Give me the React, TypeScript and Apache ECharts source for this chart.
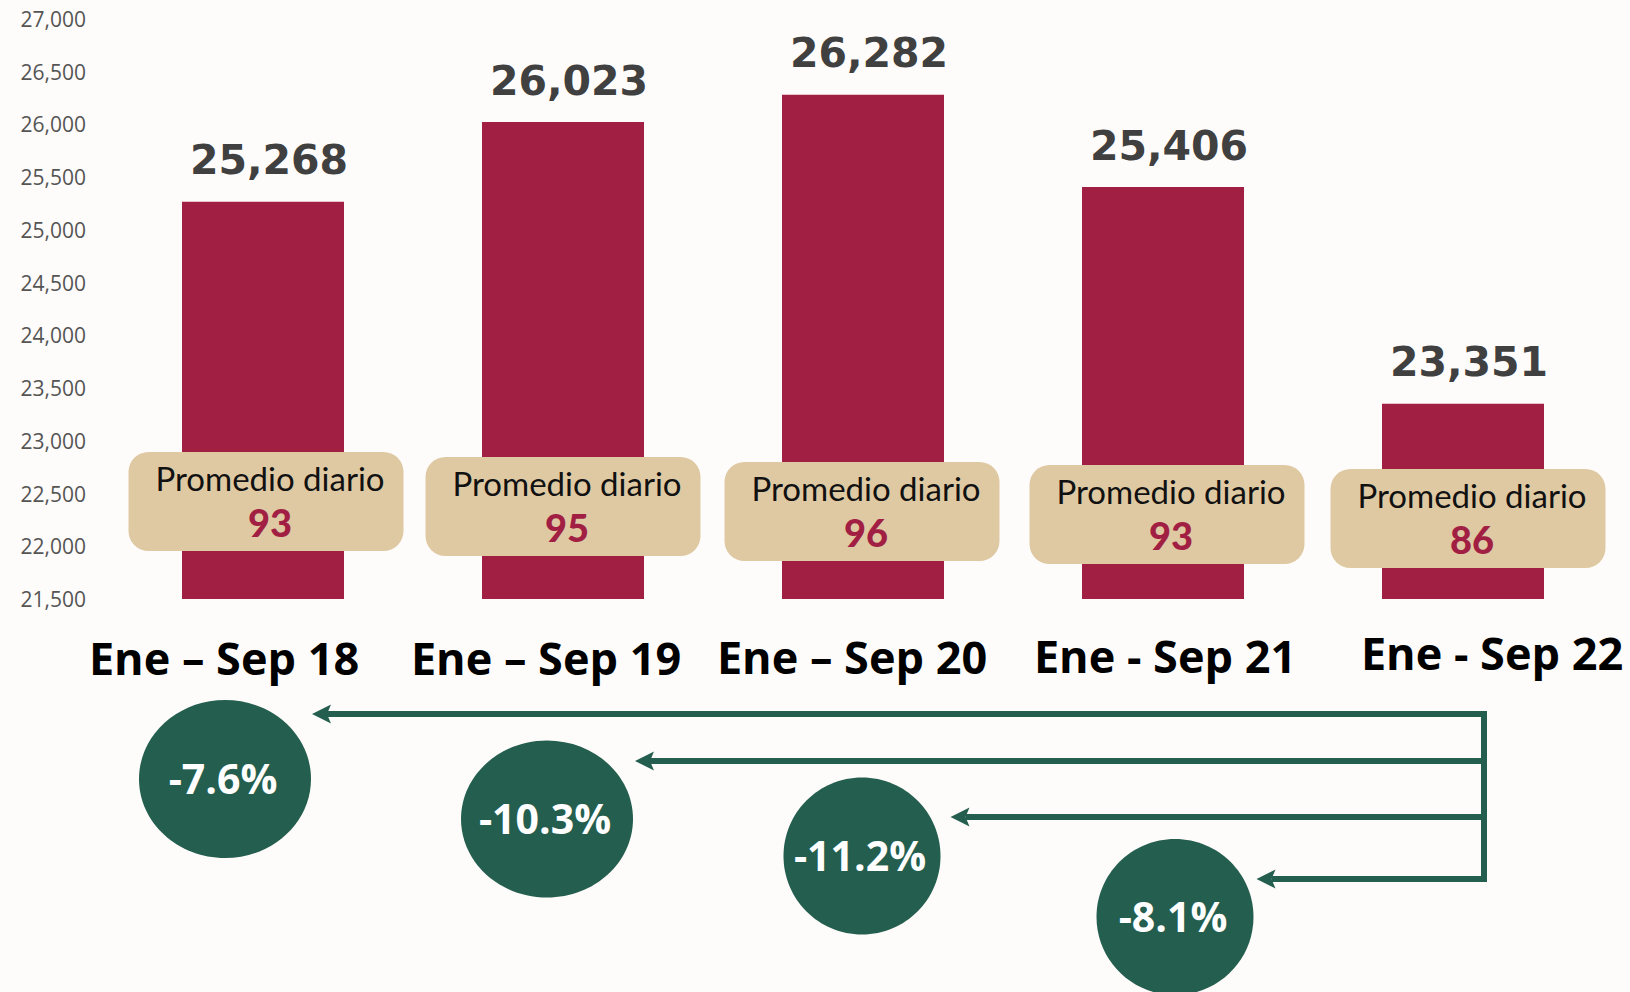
import React, { useEffect, useRef } from 'react';
import * as echarts from 'echarts';

// ---- data ----
const categories = ['Ene – Sep 18', 'Ene – Sep 19', 'Ene – Sep 20', 'Ene - Sep 21', 'Ene - Sep 22'];
const totals = [25268, 26023, 26282, 25406, 23351];
const dailyAverage = [93, 95, 96, 93, 86];
const changeVsLast = [-7.6, -10.3, -11.2, -8.1];
const yMin = 21500;
const yMax = 27000;
const yStep = 500;

// ---- styles / layout tweaks ----
const BAR = '#A21F44';
const TAN = '#DFC9A3';
const GREEN = '#245E4F';
const boxDx = [3, 0, -1, 4, 5];
const boxTop = [147, 142, 137, 134, 130];
const catDx = [-39, -17, -11, 2, 29];
const catPadTop = [13, 13, 11, 10, 3];
const circleDx = [-38, -16, -1, 12];
const circleDy = [180, 220, 257, 318];
const circleR = [[86, 79], [86, 78.5], [78.5, 78.5], [78.5, 78]];
const arrowDy = [115, 162, 218, 280];
const arrowGap = [1, 2, 10, 3];

const fmt = (v: number) => v.toLocaleString('en-US');

export default function App() {
  const ref = useRef<HTMLDivElement>(null);
  useEffect(() => {
    if (!ref.current) return;
    const chart = echarts.init(ref.current, undefined, { renderer: 'svg' });
    const rich: any = {};
    categories.forEach((_, i) => {
      const dx = catDx[i];
      rich['c' + i] = {
        fontFamily: 'Open Sans',
        fontWeight: 'bold',
        fontSize: 45,
        lineHeight: 45,
        color: '#000',
        padding: [catPadTop[i], dx < 0 ? -2 * dx : 0, 0, dx > 0 ? 2 * dx : 0],
      };
    });
    chart.setOption({
      animation: false,
      backgroundColor: '#fefcfa',
      grid: { left: 113, right: 17, top: 19, bottom: 393, containLabel: false },
      xAxis: {
        type: 'category',
        data: categories,
        axisLine: { show: false },
        axisTick: { show: false },
        axisLabel: {
          interval: 0,
          margin: 29,
          formatter: (v: string, i: number) => `{c${i}|${v}}`,
          rich,
        },
      },
      yAxis: {
        type: 'value',
        min: yMin,
        max: yMax,
        interval: yStep,
        splitLine: { show: false },
        axisLine: { show: false },
        axisTick: { show: false },
        axisLabel: {
          margin: 27,
          formatter: (v: number) => fmt(v),
          fontFamily: 'Open Sans',
          fontSize: 21,
          color: '#555555',
        },
      },
      series: [
        {
          type: 'bar',
          data: totals,
          barWidth: 162,
          itemStyle: { color: BAR },
          label: {
            show: true,
            position: 'top',
            distance: 21,
            offset: [6, 0],
            formatter: (p: any) => fmt(p.value),
            fontFamily: 'DejaVu Sans',
            fontWeight: 'bold',
            fontSize: 41,
            color: '#404040',
          },
          z: 2,
        },
        {
          type: 'custom',
          data: dailyAverage.map((v, i) => [i, v]),
          z: 3,
          renderItem: (params: any, api: any) => {
            const i = api.value(0);
            const [cx, ay] = api.coord([i, yMin]);
            const x = cx + boxDx[i];
            const top = ay - boxTop[i];
            return {
              type: 'group',
              children: [
                { type: 'rect', shape: { x: x - 137.5, y: top, width: 275, height: 99, r: 20 }, style: { fill: TAN } },
                {
                  type: 'text',
                  style: {
                    text: 'Promedio diario', x: x + 4, y: top + 26, align: 'center', verticalAlign: 'middle',
                    fontFamily: 'Lato', fontSize: 33, fill: '#111111',
                  },
                },
                {
                  type: 'text',
                  style: {
                    text: String(api.value(1)), x: x + 4, y: top + 70, align: 'center', verticalAlign: 'middle',
                    fontFamily: 'Lato', fontWeight: 900, fontSize: 38, fill: BAR,
                  },
                },
              ],
            };
          },
        },
        {
          type: 'custom',
          data: changeVsLast.map((v, i) => [i, v]),
          z: 4,
          renderItem: (params: any, api: any) => {
            const i = api.value(0);
            const [cx, ay] = api.coord([i, yMin]);
            const vx = api.coord([categories.length - 1, yMin])[0] + 21;
            const ex = cx + circleDx[i];
            const ey = ay + circleDy[i];
            const [rx, ry] = circleR[i];
            const ly = ay + arrowDy[i];
            const tip = ex + rx + arrowGap[i];
            return {
              type: 'group',
              children: [
                { type: 'ellipse', shape: { cx: ex, cy: ey, rx, ry }, style: { fill: GREEN } },
                {
                  type: 'text',
                  style: {
                    text: `${api.value(1).toFixed(1)}%`, x: ex - 2, y: ey - 1, align: 'center', verticalAlign: 'middle',
                    fontFamily: 'Open Sans', fontWeight: 'bold', fontSize: 41, fill: '#ffffff',
                  },
                },
                {
                  type: 'line',
                  shape: { x1: tip + 15, y1: ly, x2: vx + 3, y2: ly },
                  style: { stroke: GREEN, lineWidth: 6 },
                },
                {
                  type: 'line',
                  shape: { x1: vx, y1: ay + arrowDy[0] - 3, x2: vx, y2: ly + 3 },
                  style: { stroke: GREEN, lineWidth: 6 },
                },
                {
                  type: 'polygon',
                  shape: { points: [[tip, ly], [tip + 19, ly - 9.5], [tip + 15, ly], [tip + 19, ly + 9.5]] },
                  style: { fill: GREEN },
                },
              ],
            };
          },
        },
      ],
    });
    return () => chart.dispose();
  }, []);
  return <div ref={ref} style={{ position: 'absolute', left: 0, top: 0, width: 1630, height: 992 }} />;
}
